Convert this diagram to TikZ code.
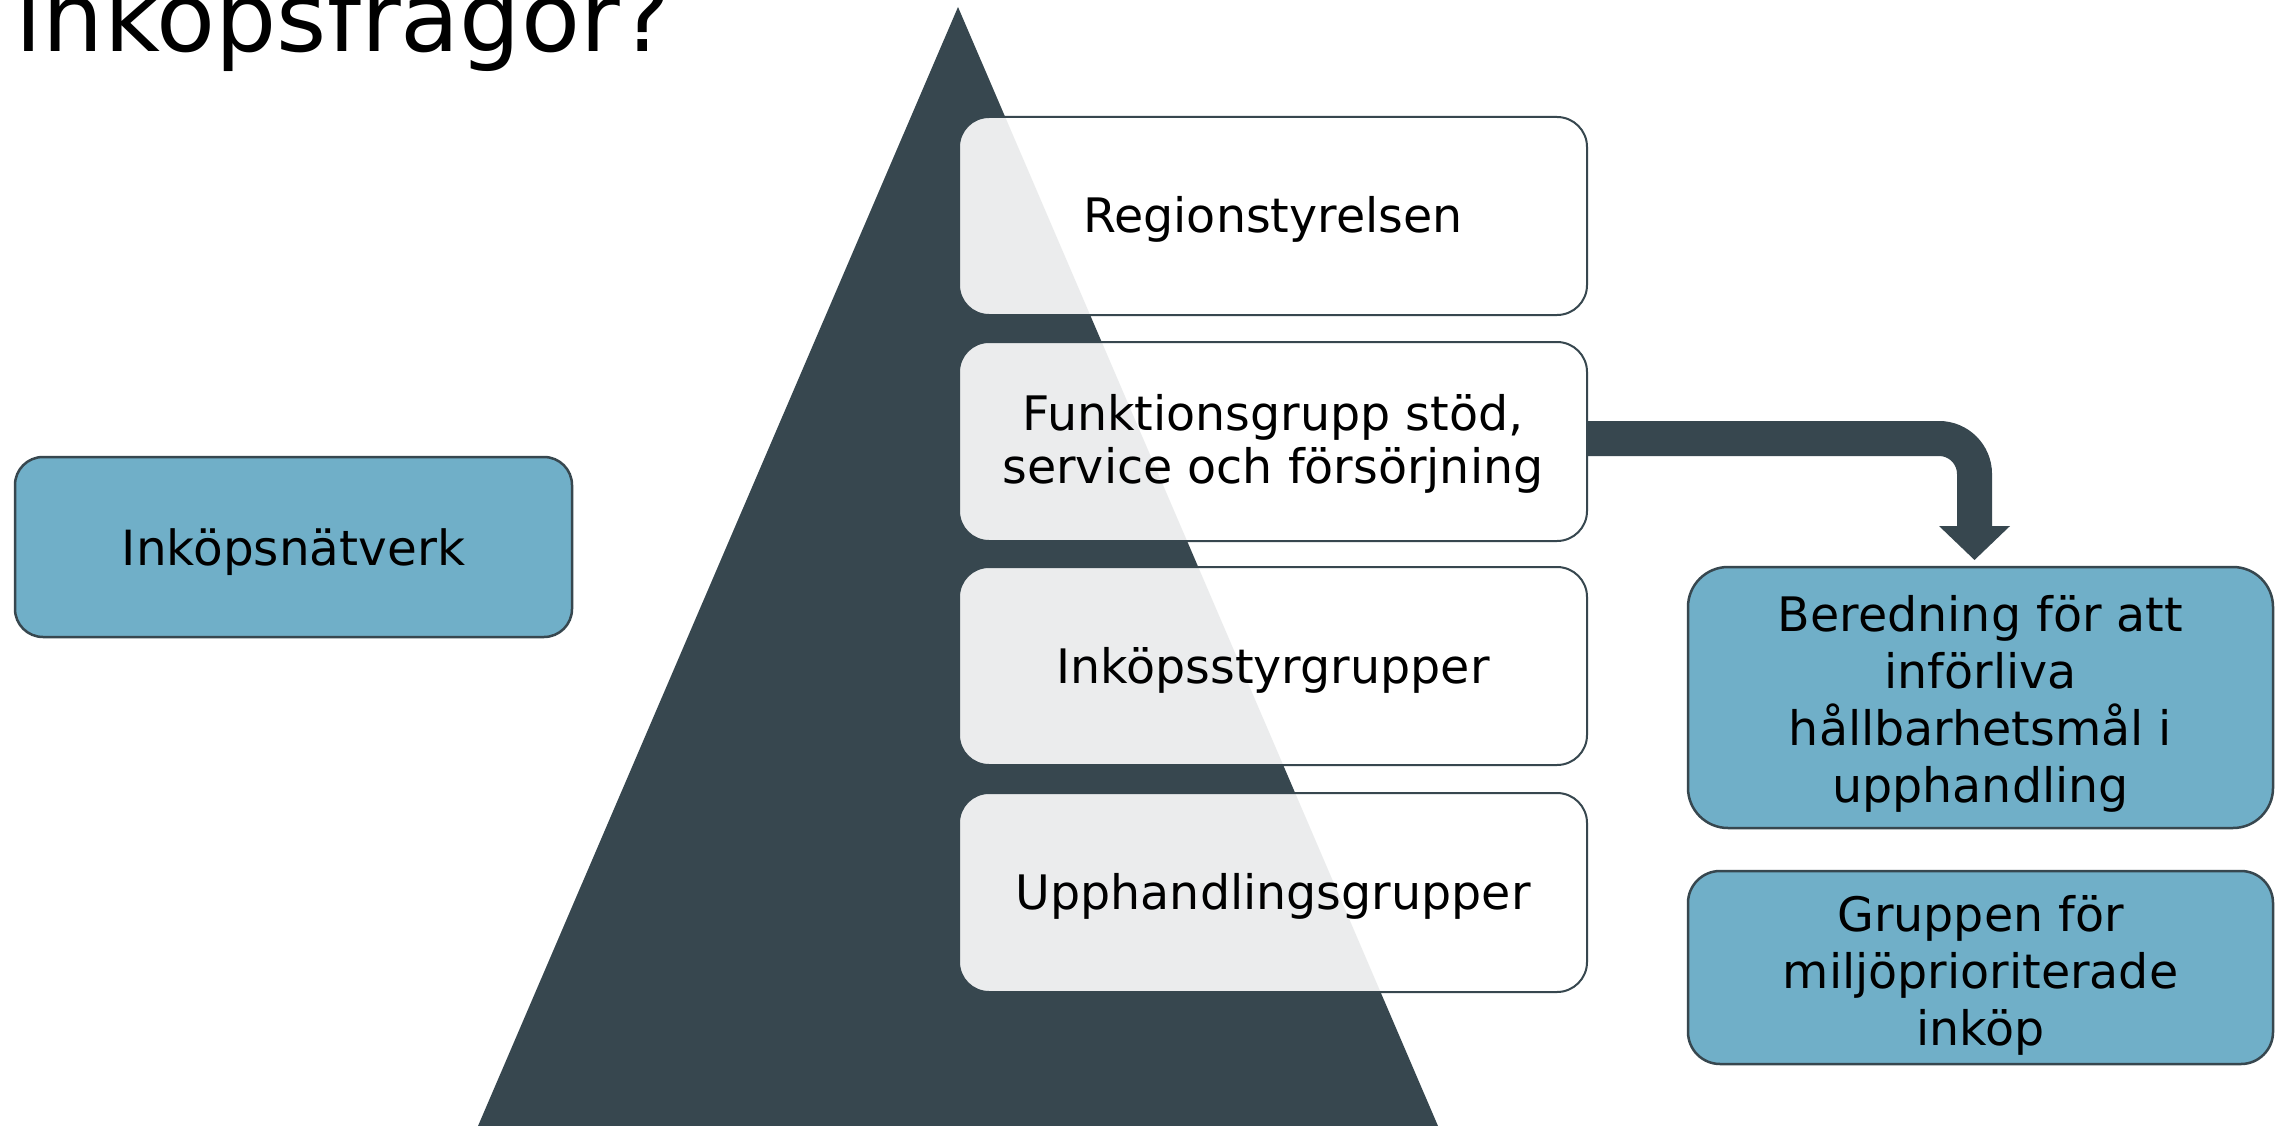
\documentclass[tikz,border=0pt]{standalone}
\usepackage{fontspec}
\setmainfont{DejaVu Sans}
\definecolor{slate}{RGB}{55,71,79}
\definecolor{boxblue}{RGB}{112,175,200}
\begin{document}
\begin{tikzpicture}[x=1pt,y=-1pt,
  whitebox/.style={draw=slate, line width=2pt, fill=white, fill opacity=0.9, rounded corners=30pt, inner sep=0pt, outer sep=0pt, minimum width=628pt},
  bluebox/.style={draw=slate, line width=2.5pt, fill=boxblue, inner sep=0pt, outer sep=0pt},
  lbl/.style={inner sep=0pt, outer sep=0pt, text=black, font=\fontsize{47.5}{53}\selectfont, align=center}]
\useasboundingbox (0,0) rectangle (2285,1126);
\fill[white] (0,0) rectangle (2285,1126);
\begin{scope}
\clip (0,0) rectangle (2285,1126);
% pyramid
\fill[slate] (958,7) -- (1441,1133) -- (475,1133) -- cycle;
% white boxes
\node[whitebox, minimum height=198pt] (reg) at (1273,216) {};
\node[whitebox, minimum height=199pt] (funk) at (1273,441.5) {};
\node[whitebox, minimum height=198pt] (styr) at (1273,666) {};
\node[whitebox, minimum height=199pt] (upph) at (1273,892.5) {};
% blue boxes
\node[bluebox, rounded corners=28pt, minimum width=557pt, minimum height=180pt] (natv) at (293.5,547) {};
\node[bluebox, rounded corners=40pt, minimum width=585pt, minimum height=261pt] (bered) at (1980.5,697.5) {};
\node[bluebox, rounded corners=32pt, minimum width=585pt, minimum height=193pt] (grupp) at (1980.5,967.5) {};
% arrow
\coordinate (tip) at ([xshift=-6pt,yshift=7pt]bered.north);
\draw[slate, line width=35pt, rounded corners=35.5pt] ([yshift=3pt]funk.east) -| ([yshift=33pt]tip);
\fill[slate] ([xshift=-35.5pt,yshift=34pt]tip) -- ([xshift=35.5pt,yshift=34pt]tip) -- (tip) -- cycle;
% texts
\node[anchor=base west, inner sep=0pt, outer sep=0pt, font=\fontsize{96.5}{100}\selectfont] (title) at (16,52) {inköpsfrågor?};
\node[lbl, anchor=base] (t1) at (1273,233) {Regionstyrelsen};
\node[lbl] (t2) at (1273,443.4) {Funktionsgrupp stöd,\\service och försörjning};
\node[lbl, anchor=base] (t3) at (1273,683) {Inköpsstyrgrupper};
\node[lbl, anchor=base] (t4) at (1273,909) {Upphandlingsgrupper};
\node[lbl, anchor=base, font=\fontsize{48.5}{53}\selectfont] (t5) at (293.5,565) {Inköpsnätverk};
\node[lbl, font=\fontsize{47.5}{57.3}\selectfont] (t6) at (1980.5,703.9) {Beredning för att\\införliva\\hållbarhetsmål i\\upphandling};
\node[lbl, font=\fontsize{47.5}{57}\selectfont] (t7) at (1980.5,974.9) {Gruppen för\\miljöprioriterade\\inköp};
\end{scope}
\end{tikzpicture}
\end{document}
